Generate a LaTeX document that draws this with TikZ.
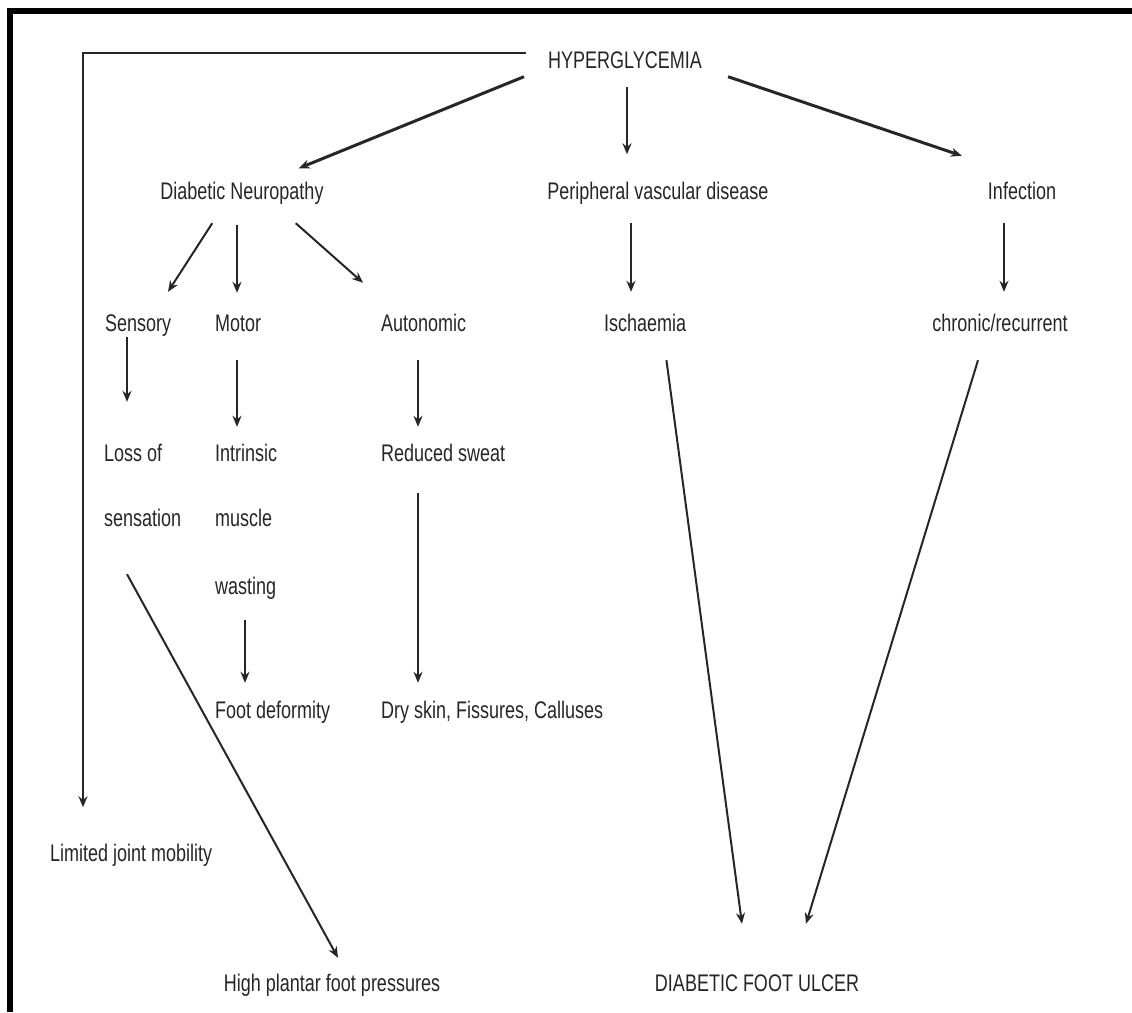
\documentclass[tikz,border=0pt]{standalone}
\usepackage{fontspec}
\setmainfont{Liberation Sans}[FakeStretch=0.75]
\usetikzlibrary{arrows.meta}

\tikzset{
  lbl/.style={inner sep=0pt, text height=18pt, text depth=5pt,
    font=\fontsize{24}{29}\selectfont, text=black!85},
  arr/.style={-{Stealth[length=11pt,width=9pt]}, line width=2pt, black!85},
  bigarr/.style={arr, line width=3pt}
}

\begin{document}
\begin{tikzpicture}[x=1pt,y=-1pt]
\useasboundingbox (0,0) rectangle (1132,1012);
\draw[line width=5.5pt] (10,1012) -- (10,11) -- (1132,11);
% top row
\node[lbl] (hyper) at (625,62) {HYPERGLYCEMIA};
\node[lbl] (dn) at (242,193) {Diabetic Neuropathy};
\node[lbl] (pvd) at (658,193) {Peripheral vascular disease};
\node[lbl] (inf) at (1022,193) {Infection};
% second row
\node[lbl,anchor=west] (sens) at (105,325) {Sensory};
\node[lbl,anchor=west] (motor) at (215,325) {Motor};
\node[lbl,anchor=west] (auto) at (381,325) {Autonomic};
\node[lbl,anchor=west] (isch) at (604,325) {Ischaemia};
\node[lbl] (chr) at (1000,325) {chronic/recurrent};
% third row
\node[lbl,anchor=west] (loss) at (104,455) {Loss of};
\node[lbl,anchor=west] (sensn) at (104,520) {sensation};
\node[lbl,anchor=west] (intr) at (215,455) {Intrinsic};
\node[lbl,anchor=west] (musc) at (215,520) {muscle};
\node[lbl,anchor=west] (wast) at (215,588) {wasting};
\node[lbl,anchor=west] (red) at (381,455) {Reduced sweat};
\node[lbl,anchor=west] (footd) at (215,712) {Foot deformity};
\node[lbl,anchor=west] (dry) at (381,712) {Dry skin, Fissures, Calluses};
% bottom
\node[lbl,anchor=west] (ljm) at (50,855) {Limited joint mobility};
\node[lbl] (hpfp) at (332,985) {High plantar foot pressures};
\node[lbl] (dfu) at (757,985) {DIABETIC FOOT ULCER};

\draw[arr] ([shift={(-22,-9)}]hyper.west) -| ([shift={(33,-36)}]ljm.north west);
\draw[bigarr] ([shift={(-24,3)}]hyper.south west) -- ([shift={(-25,-13)}]dn.north east);
\draw[arr] ([shift={(2,13)}]hyper.south) -- ([shift={(-31,-27)}]pvd.north);
\draw[bigarr] ([shift={(26,3)}]hyper.south east) -- ([shift={(-26,-25.5)}]inf.north west);

\draw[arr] ([shift={(52,18.5)}]dn.south west) -- ([shift={(63,-21.5)}]sens.north west);
\draw[arr] ([shift={(-5,20.5)}]dn.south) -- ([shift={(22,-20.5)}]motor.north west);
\draw[arr] ([shift={(-28,18.5)}]dn.south east) -- ([shift={(-18,-30.5)}]auto.north west);
\draw[arr] ([shift={(-27,18.5)}]pvd.south) -- ([shift={(27,-21.5)}]isch.north west);
\draw[arr] ([shift={(-18,18.5)}]inf.south) -- ([shift={(4,-21.5)}]chr.north);

\draw[arr] ([shift={(22,0.5)}]sens.south west) -- ([shift={(23,-41.5)}]loss.north west);
\draw[arr] ([shift={(22,23.5)}]motor.south west) -- ([shift={(22,-16.5)}]intr.north west);
\draw[arr] ([shift={(37,23.5)}]auto.south west) -- ([shift={(37,-16.5)}]red.north west);
\draw[arr] ([shift={(30,20.5)}]wast.south west) -- ([shift={(30,-17.5)}]footd.north west);
\draw[arr] ([shift={(37,26.5)}]red.south west) -- ([shift={(37,-17.5)}]dry.north west);

\draw[arr] ([shift={(23,42.5)}]sensn.south west) -- ([shift={(6,-15.5)}]hpfp.north);
\draw[arr] ([shift={(-20,23.5)}]isch.south east) -- ([shift={(-15,-49.5)}]dfu.north);
\draw[arr] ([shift={(-22,23.5)}]chr.south) -- ([shift={(49,-49.5)}]dfu.north);
\end{tikzpicture}
\end{document}
